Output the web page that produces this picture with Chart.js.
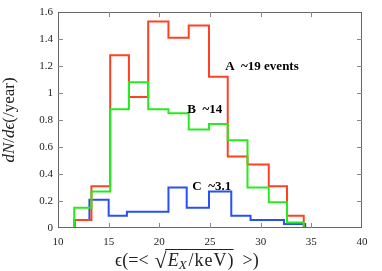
<!DOCTYPE html>
<html>
<head>
<meta charset="utf-8">
<script src="https://cdn.jsdelivr.net/npm/chart.js@4.4.1/dist/chart.umd.min.js"></script>
<style>
  html, body { margin: 0; padding: 0; background: #fff; }
  #wrap { width: 382px; height: 271px; position: relative; }
</style>
</head>
<body>
<div id="wrap"><canvas id="c" width="382" height="271"></canvas></div>
<script>
// ---- data ----
const edgesAB = [11.6, 13.3, 15.15, 17.0, 18.9, 20.9, 22.9, 24.9, 26.75, 28.7, 30.8, 32.6, 34.25];
const edgesC  = [11.65, 13.1, 15.0, 16.8, 18.9, 20.9, 22.7, 24.9, 27.1, 29.0, 30.7, 32.3, 34.4];
const valuesA = [0.06, 0.31, 1.28, 0.97, 1.53, 1.41, 1.50, 1.12, 0.53, 0.47, 0.31, 0.09];
const valuesB = [0.15, 0.27, 0.88, 1.08, 0.88, 0.85, 0.73, 0.77, 0.65, 0.30, 0.19, 0.04];
const valuesC = [0.06, 0.21, 0.09, 0.12, 0.12, 0.30, 0.15, 0.27, 0.09, 0.06, 0.06, 0.03];
const xTicks = [10, 15, 20, 25, 30, 35, 40];
const yTicks = [0, 0.2, 0.4, 0.6, 0.8, 1, 1.2, 1.4, 1.6];
const labels = [
  { text: 'A  ~19 events', x: 26.5, y: 1.196 },
  { text: 'B  ~14', x: 22.76, y: 0.88 },
  { text: 'C  ~3.1', x: 23.25, y: 0.31 }
];

function histPoints(edges, vals) {
  const pts = [{ x: edges[0], y: 0 }];
  vals.forEach((v, i) => pts.push({ x: edges[i], y: v }));
  pts.push({ x: edges[edges.length - 1], y: 0 });
  return pts;
}

const SERIF = '"Liberation Serif", "DejaVu Serif", serif';
const FRAME = '#666';

const framePlugin = {
  id: 'frame',
  afterDatasetsDraw(chart) {
    const { ctx, chartArea: a, scales } = chart;
    ctx.save();
    ctx.strokeStyle = FRAME;
    ctx.lineWidth = 1;
    ctx.strokeRect(a.left + 0.5, a.top + 0.5, a.right - a.left - 1, a.bottom - a.top - 1);
    ctx.strokeStyle = '#888';
    const tl = 5;
    xTicks.forEach(v => {
      const px = Math.round(scales.x.getPixelForValue(v)) + 0.5;
      if (v === 10 || v === 40) return;
      ctx.beginPath();
      ctx.moveTo(px, a.bottom); ctx.lineTo(px, a.bottom - tl);
      ctx.moveTo(px, a.top); ctx.lineTo(px, a.top + tl);
      ctx.stroke();
    });
    yTicks.forEach(v => {
      const py = Math.round(scales.y.getPixelForValue(v)) + 0.5;
      if (v === 0 || v === 1.6) return;
      ctx.beginPath();
      ctx.moveTo(a.left, py); ctx.lineTo(a.left + tl, py);
      ctx.moveTo(a.right, py); ctx.lineTo(a.right - tl, py);
      ctx.stroke();
    });
    // annotations
    ctx.fillStyle = '#000';
    ctx.font = 'bold 13px ' + SERIF;
    ctx.textBaseline = 'middle';
    ctx.textAlign = 'left';
    labels.forEach(l => {
      ctx.fillText(l.text, scales.x.getPixelForValue(l.x), scales.y.getPixelForValue(l.y));
    });
    ctx.restore();
  },
  afterDraw(chart) {
    const { ctx, chartArea: a } = chart;
    ctx.save();
    ctx.fillStyle = '#222';
    ctx.textBaseline = 'alphabetic';
    // y title: dN/dϵ(/year)
    ctx.translate(14, (a.top + a.bottom) / 2);
    ctx.rotate(-Math.PI / 2);
    const segY = [
      { t: 'dN', f: 'italic 17px ' + SERIF },
      { t: '/', f: '17px ' + SERIF },
      { t: 'dϵ', f: 'italic 17px ' + SERIF },
      { t: '(/year)', f: '17px ' + SERIF }
    ];
    let w = 0;
    segY.forEach(s => { ctx.font = s.f; w += ctx.measureText(s.t).width; });
    let x = -w / 2;
    segY.forEach(s => { ctx.font = s.f; ctx.fillText(s.t, x, 0); x += ctx.measureText(s.t).width; });
    ctx.restore();

    // x title: ϵ(=< √(E_X/keV) >)
    ctx.save();
    ctx.fillStyle = '#222';
    ctx.strokeStyle = '#222';
    ctx.textBaseline = 'alphabetic';
    const base = 266;
    const fs = 18;
    const parts = [
      { t: 'ϵ(=<', f: fs + 'px ' + SERIF, dy: 0, gap: 6 },
      { t: '√', f: (fs + 4) + 'px ' + SERIF, dy: 2, rootStart: true, gap: 1 },
      { t: 'E', f: 'italic ' + fs + 'px ' + SERIF, dy: 0, over: true, gap: 0 },
      { t: 'X', f: 'italic ' + (fs - 5) + 'px ' + SERIF, dy: 3, over: true, gap: 2 },
      { t: '/keV)', f: fs + 'px ' + SERIF, dy: 0, over: true, gap: 9, spacing: 1 },
      { t: '>)', f: fs + 'px ' + SERIF, dy: 0, gap: 0 }
    ];
    let cx = a.left + 57;
    let oStart = null, oEnd = null;
    parts.forEach(p => {
      ctx.font = p.f;
      let ww = 0;
      if (p.spacing) {
        for (const ch of p.t) {
          ctx.fillText(ch, cx + ww, base + p.dy);
          ww += ctx.measureText(ch).width + p.spacing;
        }
        ww -= p.spacing;
      } else {
        ww = ctx.measureText(p.t).width;
        ctx.fillText(p.t, cx, base + p.dy);
      }
      if (p.rootStart) oStart = cx + ww - 1.5;
      if (p.over) oEnd = cx + ww;
      cx += ww + p.gap;
    });
    ctx.lineWidth = 1;
    ctx.beginPath();
    ctx.moveTo(oStart, base - 16.5);
    ctx.lineTo(oEnd, base - 16.5);
    ctx.stroke();
    ctx.restore();
  }
};

const mk = (label, edges, vals, color) => ({
  label,
  data: histPoints(edges, vals),
  borderColor: color,
  backgroundColor: color,
  borderWidth: 2,
  pointRadius: 0,
  stepped: 'before',
  fill: false,
  tension: 0
});

new Chart(document.getElementById('c'), {
  type: 'line',
  data: {
    datasets: [
      mk('B', edgesAB, valuesB, 'rgb(40,235,30)'),
      mk('A', edgesAB, valuesA, 'rgb(255,65,35)'),
      mk('C', edgesC, valuesC, 'rgb(40,80,245)')
    ]
  },
  options: {
    responsive: false,
    animation: false,
    devicePixelRatio: 1,
    layout: { padding: { left: 0, right: 20, top: 12, bottom: 0 } },
    plugins: { legend: { display: false }, tooltip: { enabled: false } },
    scales: {
      x: {
        type: 'linear',
        min: 10, max: 40,
        afterBuildTicks: s => { s.ticks = xTicks.map(v => ({ value: v })); },
        afterFit: s => { s.height = 43; },
        grid: { display: false, drawTicks: false },
        border: { display: false },
        ticks: { padding: 8, color: '#222', font: { family: SERIF, size: 11 }, maxRotation: 0, autoSkip: false }
      },
      y: {
        type: 'linear',
        min: 0, max: 1.6,
        afterBuildTicks: s => { s.ticks = yTicks.map(v => ({ value: v })); },
        afterFit: s => { s.width = 58; },
        grid: { display: false, drawTicks: false },
        border: { display: false },
        ticks: { padding: 5, color: '#222', font: { family: SERIF, size: 11 },
                 callback: v => String(v) }
      }
    }
  },
  plugins: [framePlugin]
});
</script>
</body>
</html>
